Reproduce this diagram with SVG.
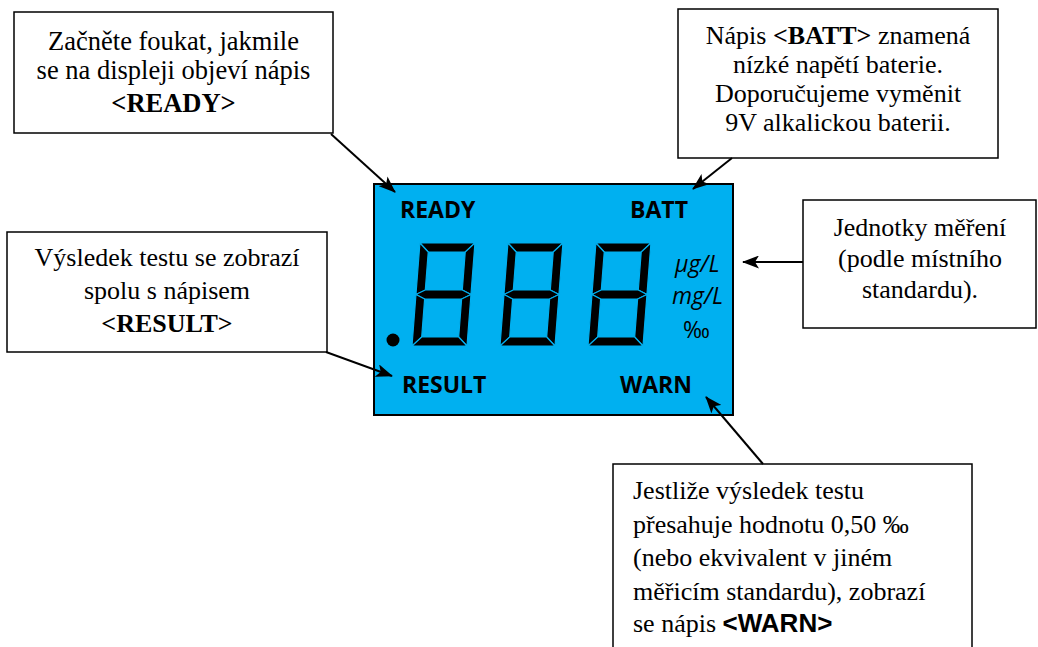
<svg xmlns="http://www.w3.org/2000/svg" width="1038" height="647" viewBox="0 0 1038 647">
<style>
.box{fill:#fff;stroke:#000;stroke-width:1.5}
.t{font-family:"Liberation Serif","Times New Roman",serif;font-size:26px;fill:#000}
.b{font-weight:bold}
.lcd{font-family:"Open Sans","DejaVu Sans",sans-serif;font-weight:bold;font-size:23px;fill:#000}
.unit{font-family:"Open Sans","DejaVu Sans",sans-serif;font-style:italic;font-weight:normal;font-size:23px;fill:#000}
.seg{fill:#000;stroke:#00B0F0;stroke-width:1.2;stroke-linejoin:miter}
.conn{stroke:#000;stroke-width:2;fill:none;marker-end:url(#ah)}
</style>
<defs>
<marker id="ah" markerWidth="17" markerHeight="13" refX="16" refY="6.5" orient="auto" markerUnits="userSpaceOnUse">
<path d="M0,0 L17,6.5 L0,13 L4,6.5 z" fill="#000"/>
</marker>
<g id="digit">
<polygon class="seg" points="0,-103 55,-103 46,-94 9,-94"/>
<polygon class="seg" points="0,-103 9,-94 9,-56 0,-51.5"/>
<polygon class="seg" points="55,-103 55,-51.5 46,-56 46,-94"/>
<polygon class="seg" points="0,-51.5 9,-56 46,-56 55,-51.5 46,-47 9,-47"/>
<polygon class="seg" points="0,-51.5 9,-47 9,-9 0,0"/>
<polygon class="seg" points="55,-51.5 55,0 46,-9 46,-47"/>
<polygon class="seg" points="0,0 9,-9 46,-9 55,0"/>
</g>
</defs>

<g id="lcd">
<rect x="374" y="184" width="359" height="231" fill="#00B0F0" stroke="#000" stroke-width="2"/>
<text class="lcd" x="400" y="218">READY</text>
<text class="lcd" x="630" y="218">BATT</text>
<text class="lcd" x="402" y="393">RESULT</text>
<text class="lcd" x="620" y="393">WARN</text>
<text class="unit" x="675" y="272">µg/L</text>
<text class="unit" x="672" y="304">mg/L</text>
<text class="unit" x="683" y="338" style="font-style:normal">‰</text>
<circle cx="393" cy="340" r="6.5" fill="#000"/>
<use href="#digit" transform="translate(412,346) skewX(-4.4)"/>
<use href="#digit" transform="translate(500,346) skewX(-4.4)"/>
<use href="#digit" transform="translate(588,346) skewX(-4.4)"/>
</g>

<g id="box-ready">
<rect class="box" x="14" y="12" width="319" height="121"/>
<text class="t" text-anchor="middle" style="font-size:26.5px"><tspan x="173.5" y="50">Začněte foukat, jakmile</tspan><tspan x="173.5" y="79">se na displeji objeví nápis</tspan><tspan x="173.5" y="112" class="b">&lt;READY&gt;</tspan></text>
</g>

<g id="box-batt">
<rect class="box" x="678" y="9" width="320" height="149"/>
<text class="t" text-anchor="middle"><tspan x="838" y="44">Nápis <tspan class="b">&lt;BATT&gt;</tspan> znamená</tspan><tspan x="838" y="73">nízké napětí baterie.</tspan><tspan x="838" y="102">Doporučujeme vyměnit</tspan><tspan x="838" y="131">9V alkalickou baterii.</tspan></text>
</g>

<g id="box-result">
<rect class="box" x="7" y="232" width="320" height="120"/>
<text class="t" text-anchor="middle"><tspan x="167" y="266">Výsledek testu se zobrazí</tspan><tspan x="167" y="299">spolu s nápisem</tspan><tspan x="167" y="332" class="b">&lt;RESULT&gt;</tspan></text>
</g>

<g id="box-units">
<rect class="box" x="803" y="200" width="233" height="128"/>
<text class="t" text-anchor="middle"><tspan x="920" y="236">Jednotky měření</tspan><tspan x="920" y="267">(podle místního</tspan><tspan x="920" y="298">standardu).</tspan></text>
</g>

<g id="box-warn">
<rect class="box" x="613" y="464" width="359" height="200"/>
<text class="t"><tspan x="633" y="499">Jestliže výsledek testu</tspan><tspan x="633" y="533">přesahuje hodnotu 0,50 ‰</tspan><tspan x="633" y="566">(nebo ekvivalent v jiném</tspan><tspan x="633" y="600">měřicím standardu), zobrazí</tspan><tspan x="633" y="632">se nápis <tspan style="font-family:'Liberation Sans',Arial,sans-serif;font-weight:bold">&lt;WARN&gt;</tspan></tspan></text>
</g>

<g id="connectors">
<line class="conn" x1="331" y1="134" x2="395" y2="192"/>
<line class="conn" x1="732" y1="158" x2="693" y2="189"/>
<line class="conn" x1="326" y1="352" x2="392" y2="376"/>
<line class="conn" x1="803" y1="262" x2="743" y2="262"/>
<line class="conn" x1="763" y1="464" x2="706" y2="397"/>
</g>
</svg>
